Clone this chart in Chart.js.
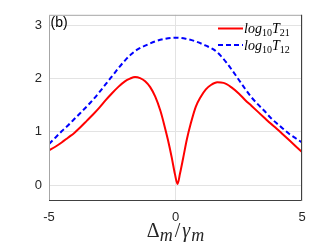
<!DOCTYPE html>
<html>
<head>
<meta charset="utf-8">
<script src="https://cdn.jsdelivr.net/npm/chart.js@4/dist/chart.umd.min.js"></script>
<style>
  html, body { margin: 0; padding: 0; background: #ffffff; }
  #chart { display: block; }
</style>
</head>
<body>
<canvas id="chart" width="327" height="245"></canvas>
<script>
// values
const xRed = [-5, -4.75, -4.5, -4.25, -4, -3.75, -3.5, -3.25, -3, -2.75, -2.5, -2.25, -2, -1.8, -1.6, -1.4, -1.2, -1.0, -0.8, -0.6, -0.45, -0.3, -0.15, -0.02, 0.08, 0.18, 0.3, 0.45, 0.6, 0.8, 1.0, 1.2, 1.4, 1.65, 1.9, 2.2, 2.5, 2.75, 3.0, 3.25, 3.5, 3.75, 4.0, 4.25, 4.5, 4.75, 5.0];
const log10T21 = [0.65, 0.72, 0.80, 0.89, 0.98, 1.09, 1.21, 1.33, 1.46, 1.60, 1.73, 1.85, 1.95, 2.00, 2.03, 2.01, 1.95, 1.84, 1.66, 1.40, 1.14, 0.85, 0.52, 0.20, 0.02, 0.22, 0.50, 0.86, 1.15, 1.47, 1.66, 1.80, 1.88, 1.93, 1.92, 1.84, 1.72, 1.60, 1.49, 1.38, 1.27, 1.16, 1.06, 0.95, 0.84, 0.73, 0.62];
const xBlue = [-5, -4.75, -4.5, -4.25, -4, -3.75, -3.5, -3.25, -3, -2.75, -2.5, -2.25, -2, -1.75, -1.5, -1.2, -0.8, -0.4, 0, 0.4, 0.8, 1.2, 1.5, 1.75, 2.0, 2.25, 2.5, 2.75, 3.0, 3.25, 3.5, 3.75, 4.0, 4.25, 4.5, 4.75, 5.0];
const log10T12 = [0.77, 0.89, 1.01, 1.12, 1.24, 1.36, 1.48, 1.61, 1.75, 1.90, 2.05, 2.20, 2.34, 2.46, 2.55, 2.62, 2.70, 2.75, 2.77, 2.75, 2.70, 2.62, 2.55, 2.45, 2.31, 2.15, 1.98, 1.81, 1.65, 1.52, 1.40, 1.27, 1.16, 1.06, 0.96, 0.88, 0.80];
const xTicks = [-5, 0, 5];
const yTicks = [0, 1, 2, 3];

const ctx = document.getElementById('chart').getContext('2d');
const axisColor = '#262626';
const serif = '"Liberation Serif", "Times New Roman", serif';

function toPoints(xs, ys) {
    return xs.map((x, i) => ({ x: x, y: ys[i] }));
}

// pieces are [text, size, italic, baselineShift, gapAfter]
function drawRich(c, parts, x, y) {
    let cx = x;
    parts.forEach(p => {
        c.font = (p[2] ? 'italic ' : '') + p[1] + 'px ' + serif;
        c.fillText(p[0], cx, y + (p[3] || 0));
        cx += c.measureText(p[0]).width + (p[4] || 0);
    });
    return cx;
}

function richWidth(c, parts) {
    let w = 0;
    parts.forEach(p => {
        c.font = (p[2] ? 'italic ' : '') + p[1] + 'px ' + serif;
        w += c.measureText(p[0]).width + (p[4] || 0);
    });
    return w;
}

const extras = {
    id: 'extras',
    afterDraw(chart) {
        const c = chart.ctx;
        const a = chart.chartArea;
        c.save();
        // box
        c.lineWidth = 1;
        c.strokeStyle = '#a6a6a6';
        c.beginPath();
        c.moveTo(a.left + 0.5, a.bottom);
        c.lineTo(a.left + 0.5, a.top + 0.5);
        c.lineTo(a.right, a.top + 0.5);
        c.stroke();
        c.strokeStyle = '#404040';
        c.beginPath();
        c.moveTo(a.left, a.bottom - 0.5);
        c.lineTo(a.right - 0.5, a.bottom - 0.5);
        c.lineTo(a.right - 0.5, a.top);
        c.stroke();

        // panel label
        c.fillStyle = '#000000';
        c.font = '14px "Liberation Sans", Arial, sans-serif';
        c.textBaseline = 'middle';
        c.fillText('(b)', a.left + 1.5, 23);

        // legend
        c.textBaseline = 'alphabetic';
        c.lineWidth = 2;
        c.strokeStyle = '#ff0000';
        c.setLineDash([]);
        c.beginPath();
        c.moveTo(218, 28.5);
        c.lineTo(243, 28.5);
        c.stroke();
        c.strokeStyle = '#0000ff';
        c.setLineDash([5, 3]);
        c.beginPath();
        c.moveTo(218, 45);
        c.lineTo(243, 45);
        c.stroke();
        c.setLineDash([]);
        c.fillStyle = '#000000';
        drawRich(c, [['log', 14, true], ['10', 10, false, 3], ['T', 14, true], ['21', 10, false, 3]], 244, 33);
        drawRich(c, [['log', 14, true], ['10', 10, false, 3], ['T', 14, true], ['12', 10, false, 3]], 244, 49.5);

        // x axis title
        const title = [['\u0394', 20, false], ['m', 18, true, 4, 2], ['/', 20, false, 0, 2], ['\u03b3', 20, true, 0, 1], ['m', 18, true, 4]];
        const w = richWidth(c, title);
        c.fillStyle = '#262626';
        drawRich(c, title, (a.left + a.right) / 2 - w / 2, 237);
        c.restore();
    }
};

new Chart(ctx, {
    type: 'line',
    data: {
        datasets: [{
            label: 'log10T21',
            data: toPoints(xRed, log10T21),
            borderColor: '#ff0000',
            borderWidth: 2,
            pointRadius: 0,
            cubicInterpolationMode: 'monotone',
            fill: false
        }, {
            label: 'log10T12',
            data: toPoints(xBlue, log10T12),
            borderColor: '#0000ff',
            borderWidth: 2,
            borderDash: [5, 3],
            pointRadius: 0,
            cubicInterpolationMode: 'monotone',
            fill: false
        }]
    },
    options: {
        responsive: false,
        animation: false,
        devicePixelRatio: 1,
        layout: {
            padding: { left: 0, right: 25, top: 11, bottom: 0 }
        },
        plugins: {
            legend: { display: false },
            tooltip: { enabled: false }
        },
        scales: {
            x: {
                type: 'linear',
                min: -5,
                max: 5,
                afterBuildTicks: axis => { axis.ticks = xTicks.map(v => ({ value: v })); },
                afterFit: axis => { axis.height = 44; },
                ticks: {
                    color: axisColor,
                    padding: 9,
                    maxRotation: 0,
                    font: { family: '"Liberation Sans", Arial, sans-serif', size: 13 }
                },
                grid: { color: '#e3e3e3', tickLength: 0 },
                border: { display: false }
            },
            y: {
                type: 'linear',
                min: -0.3,
                max: 3.2,
                afterBuildTicks: axis => { axis.ticks = yTicks.map(v => ({ value: v })); },
                afterFit: axis => { axis.width = 49; },
                ticks: {
                    color: axisColor,
                    padding: 7,
                    font: { family: '"Liberation Sans", Arial, sans-serif', size: 13 }
                },
                grid: { color: '#e3e3e3', tickLength: 0 },
                border: { display: false }
            }
        }
    },
    plugins: [extras]
});
</script>
</body>
</html>
